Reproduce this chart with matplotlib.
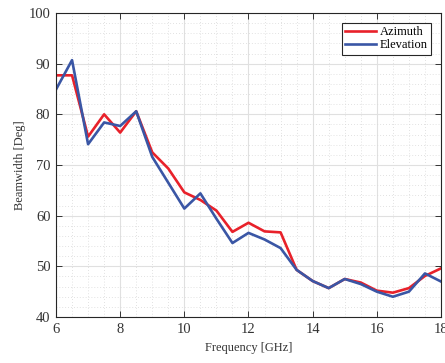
import numpy as np
import matplotlib
matplotlib.use("Agg")
import matplotlib.pyplot as plt
from matplotlib.ticker import MultipleLocator

freq = [6, 6.5, 7, 7.5, 8, 8.5, 9, 9.5, 10, 10.5, 11, 11.5, 12, 12.5,
        13, 13.5, 14, 14.5, 15, 15.5, 16, 16.5, 17, 17.5, 18]
azimuth = [87.7, 87.7, 75.6, 80.0, 76.4, 80.6, 72.5, 69.3, 64.6, 63.1,
           61.0, 56.8, 58.6, 56.9, 56.7, 49.3, 47.1, 45.7, 47.5, 46.8,
           45.2, 44.8, 45.7, 48.1, 49.6]
elevation = [84.9, 90.7, 74.1, 78.4, 77.7, 80.6, 71.6, 66.5, 61.4, 64.4,
             59.4, 54.6, 56.6, 55.3, 53.6, 49.3, 47.1, 45.7, 47.5, 46.5,
             45.0, 44.0, 45.0, 48.6, 47.0]

plt.rcParams['font.family'] = ['Liberation Serif', 'DejaVu Serif']

fig = plt.figure(figsize=(4.45, 3.63), dpi=100)
ax = fig.add_axes([56/445, 46/363, 385/445, 304/363])

ax.plot(freq, azimuth, color='#e8212a', lw=1.9, label='Azimuth')
ax.plot(freq, elevation, color='#3a56a5', lw=1.9, label='Elevation')

ax.set_xlim(6, 18)
ax.set_ylim(40, 100)
ax.xaxis.set_major_locator(MultipleLocator(2))
ax.xaxis.set_minor_locator(MultipleLocator(0.5))
ax.yaxis.set_major_locator(MultipleLocator(10))
ax.yaxis.set_minor_locator(MultipleLocator(2))

ax.grid(which='major', color='#e0e0e0', lw=0.8, ls='-')
ax.grid(which='minor', color='#d8d8d8', lw=0.6, ls=(0, (1, 2.5)))
ax.set_axisbelow(True)

ax.tick_params(which='major', direction='in', length=4, width=0.7,
               top=True, right=True, labelsize=10.5, colors='#333333',
               pad=4)
ax.tick_params(which='minor', length=0, top=True, right=True)
for s in ax.spines.values():
    s.set_linewidth(0.8)
    s.set_color('#262626')

ax.set_xlabel('Frequency [GHz]', fontsize=9, color='#333333', labelpad=5)
ax.set_ylabel('Beamwidth [Deg]', fontsize=9, color='#333333', labelpad=2)

leg = ax.legend(loc='upper right', fontsize=9, frameon=True, fancybox=False,
                edgecolor='#262626', framealpha=1, handlelength=2.5,
                handletextpad=0.3, borderpad=0.25, labelspacing=0.1,
                borderaxespad=0.8)
leg.get_frame().set_linewidth(0.8)

fig.savefig('out.png', dpi=100)
